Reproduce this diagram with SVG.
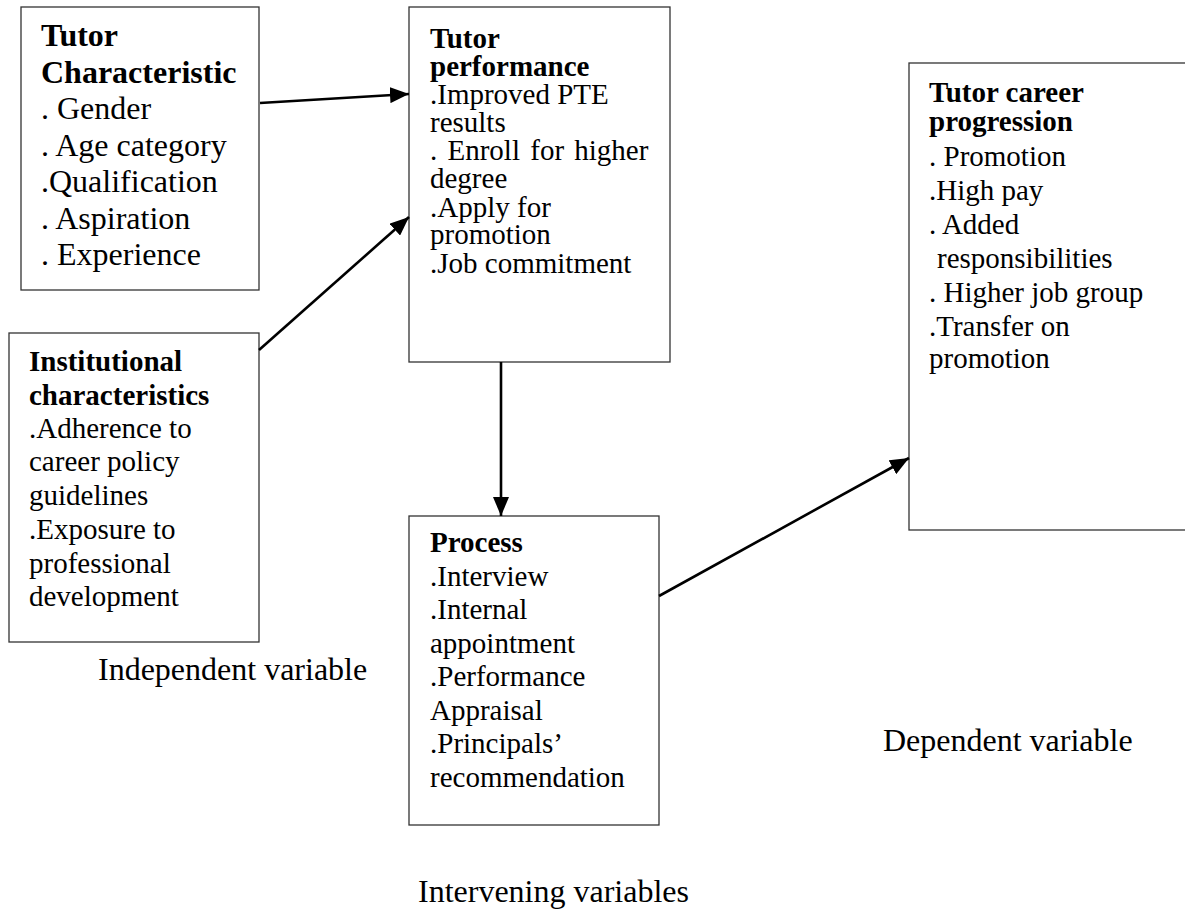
<svg xmlns="http://www.w3.org/2000/svg" width="1185" height="909" viewBox="0 0 1185 909">
<style>
  .box { fill: #ffffff; stroke: #333333; stroke-width: 1.3; }
  .t { font-family: "Liberation Serif", "Times New Roman", serif; font-size: 29px; fill: #000000; }
  .t1 { font-family: "Liberation Serif", "Times New Roman", serif; font-size: 32px; fill: #000000; }
  .b { font-weight: bold; }
  .conn { stroke: #000000; stroke-width: 2.6; fill: none; marker-end: url(#ah); }
  .lbl { font-family: "Liberation Serif", "Times New Roman", serif; font-size: 32px; fill: #000000; }
</style>
<defs>
  <marker id="ah" markerUnits="userSpaceOnUse" markerWidth="20" markerHeight="16" viewBox="0 0 20 16" refX="19" refY="8" orient="auto">
    <path d="M0,0 L19,8 L0,16 Z" fill="#000000"/>
  </marker>
</defs>
<rect x="0" y="0" width="1185" height="909" fill="#ffffff"/>

<g id="tutor-characteristic">
  <rect class="box" x="21" y="7" width="238" height="283"/>
  <text class="t1 b" x="41" y="46">Tutor</text>
  <text class="t1 b" x="41" y="82.5">Characteristic</text>
  <text class="t1" x="41" y="119">. Gender</text>
  <text class="t1" x="41" y="155.5">. Age category</text>
  <text class="t1" x="41" y="192">.Qualification</text>
  <text class="t1" x="41" y="228.5">. Aspiration</text>
  <text class="t1" x="41" y="265">. Experience</text>
</g>

<g id="tutor-performance">
  <rect class="box" x="409" y="7" width="261" height="355"/>
  <text class="t b" x="430" y="47.5">Tutor</text>
  <text class="t b" x="430" y="76">performance</text>
  <text class="t" x="430" y="104">.Improved PTE</text>
  <text class="t" x="430" y="132">results</text>
  <text class="t" x="430" y="160" word-spacing="3">. Enroll for higher</text>
  <text class="t" x="430" y="188">degree</text>
  <text class="t" x="430" y="216.5">.Apply for</text>
  <text class="t" x="430" y="244">promotion</text>
  <text class="t" x="430" y="272.5">.Job commitment</text>
</g>

<g id="institutional-characteristics">
  <rect class="box" x="9" y="333" width="250" height="309"/>
  <text class="t b" x="29" y="371">Institutional</text>
  <text class="t b" x="29" y="404.5">characteristics</text>
  <text class="t" x="29" y="438">.Adherence to</text>
  <text class="t" x="29" y="471">career policy</text>
  <text class="t" x="29" y="504.5">guidelines</text>
  <text class="t" x="29" y="539">.Exposure to</text>
  <text class="t" x="29" y="572.5">professional</text>
  <text class="t" x="29" y="606">development</text>
</g>

<g id="process">
  <rect class="box" x="409" y="516" width="250" height="309"/>
  <text class="t b" x="430" y="552">Process</text>
  <text class="t" x="430" y="585.5">.Interview</text>
  <text class="t" x="430" y="619">.Internal</text>
  <text class="t" x="430" y="652.5">appointment</text>
  <text class="t" x="430" y="686">.Performance</text>
  <text class="t" x="430" y="719.5">Appraisal</text>
  <text class="t" x="430" y="753">.Principals’</text>
  <text class="t" x="430" y="786.5">recommendation</text>
</g>

<g id="tutor-career-progression">
  <rect class="box" x="909" y="63" width="300" height="467"/>
  <text class="t b" x="929" y="101.5">Tutor career</text>
  <text class="t b" x="929" y="130.5">progression</text>
  <text class="t" x="929" y="166">. Promotion</text>
  <text class="t" x="929" y="199.5">.High pay</text>
  <text class="t" x="929" y="234">. Added</text>
  <text class="t" x="937" y="268">responsibilities</text>
  <text class="t" x="929" y="301.5">. Higher job group</text>
  <text class="t" x="929" y="335.5">.Transfer on</text>
  <text class="t" x="929" y="368">promotion</text>
</g>

<g id="connectors">
  <line class="conn" x1="260" y1="103" x2="409" y2="94"/>
  <line class="conn" x1="259" y1="350" x2="409" y2="217"/>
  <line class="conn" x1="501" y1="362" x2="501" y2="516"/>
  <line class="conn" x1="659" y1="596" x2="909" y2="458"/>
</g>

<g id="labels">
  <text class="lbl" x="98" y="680">Independent variable</text>
  <text class="lbl" x="418" y="902">Intervening variables</text>
  <text class="lbl" x="883" y="751">Dependent variable</text>
</g>
</svg>
